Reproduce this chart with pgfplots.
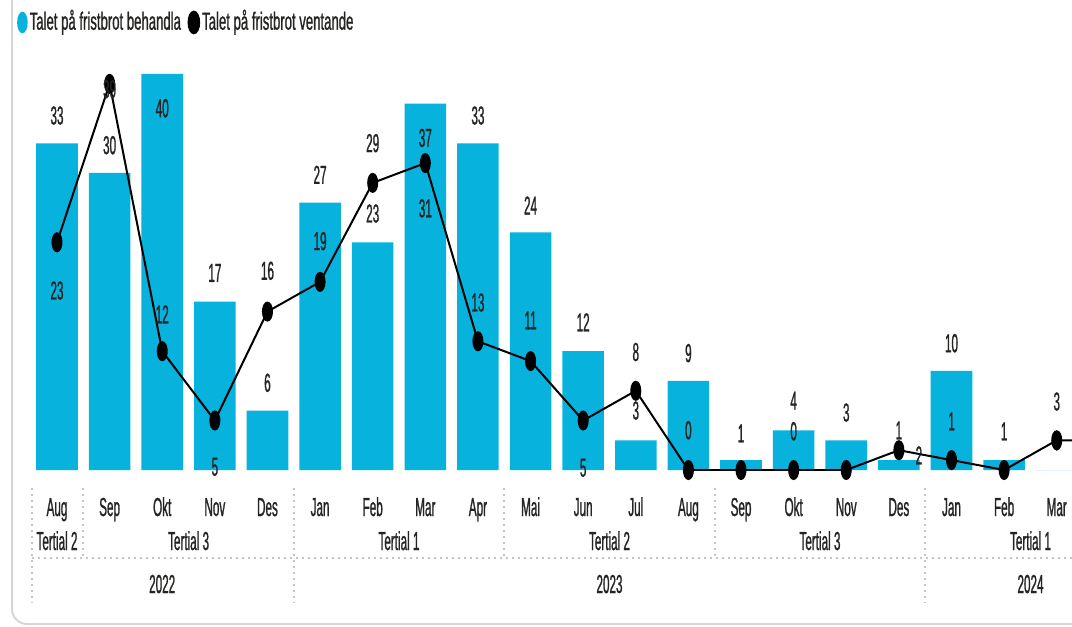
\documentclass[border=0pt]{standalone}
\usepackage{fontspec}
\setmainfont{Liberation Sans}[FakeStretch=0.45, FakeBold=0.9]
\newfontfamily\legendfont{Liberation Sans}[FakeStretch=0.53, FakeBold=0.9]
\usepackage{pgfplots}
\pgfplotsset{compat=1.18}
\usepackage{pgfplotstable}

\definecolor{pbicyan}{HTML}{07B2DD}
\definecolor{pbitext}{HTML}{252423}
\definecolor{pbidot}{HTML}{C4C4C4}
\definecolor{pbiframe}{HTML}{D6D6D6}

\newcommand\lblfont{\fontsize{13}{15}\selectfont}

% bars: month index, value, label offset (px, + = above bar top)
\pgfplotstableread{
x  y   dy
0  33  26
1  30  26
2  40  -36
3  17  27
4  6   26
5  27  26
6  23  27
7  37  -36
8  33  26
9  24  25
10 12  27
11 3   28
12 9   26
13 1   25
14 4   28
15 3   26
16 1   28
17 10  26
18 1   27
19 0   27
}\behandla

% line: month index, value, label offsets (px), label text
\pgfplotstableread{
x  y   dx  dy   lab
0  23  0   -50  23
1  39  0   -7   39
2  12  0   35   12
3  5   0   -48  5
4  16  0   39   16
5  19  0   39   19
6  29  0   38   29
7  31  0   -47  31
8  13  0   37   13
9  11  0   39   11
10 5   0   -49  5
11 8   0   37   8
12 0   0   38   0
13 0   0   0    {}
14 0   0   37   0
15 0   0   0    {}
16 2   20  -7   2
17 1   0   37   1
18 0   0   0    {}
19 3   0   37   3
20 3   0   0    {}
}\ventande

\begin{document}
\begin{tikzpicture}
\useasboundingbox (0,0) rectangle (536pt,-313.5pt);

\begin{axis}[
  at={(16pt,-235pt)}, anchor=south west,
  scale only axis, width=520pt, height=205pt,
  xmin=-0.475, xmax=19.29, ymin=0, ymax=41.41,
  axis line style={draw=none}, major tick length=0pt,
  ytick=\empty,
  xtick={0,...,19},
  xticklabels={Aug,Sep,Okt,Nov,Des,Jan,Feb,Mar,Apr,Mai,Jun,Jul,Aug,Sep,Okt,Nov,Des,Jan,Feb,Mar},
  xticklabel style={anchor=base, yshift=-23pt, font=\lblfont, text=pbitext, inner sep=0pt},
  /pgf/number format/assume math mode=true,
  legend columns=2, legend cell align=left,
  legend style={at={(axis description cs:-0.0147,1.0915)}, anchor=west,
    draw=none, fill=none, inner sep=0pt,
    font=\legendfont\fontsize{12.4}{14}\selectfont, text=pbitext,
    nodes={inner sep=0pt, text height=0.72em, text depth=0pt},
    /tikz/every odd column/.append style={column sep=1pt},
    /tikz/every even column/.append style={column sep=3.3pt}},
]
\addplot[ybar, bar width=0.79, fill=pbicyan, draw=none,
  legend image code/.code={\fill[pbicyan] (2.65pt,0pt) ellipse [x radius=2.65pt, y radius=5.4pt];},
  nodes near coords, nodes near coords align={center},
  visualization depends on={\thisrow{dy} \as \ldy},
  every node near coord/.append style={anchor=center, yshift=\ldy*0.5pt,
    font=\lblfont, text=pbitext, inner sep=0pt, text height=0.72em, text depth=0pt}]
  table[x=x, y=y] {\behandla};

\addplot[black, line width=1pt, mark=*, mark size=4.5pt,
  mark options={xscale=0.5, solid, fill=black},
  legend image code/.code={\fill[black] (2.65pt,0pt) ellipse [x radius=2.65pt, y radius=5.4pt];},
  point meta=explicit symbolic,
  nodes near coords, nodes near coords align={center},
  visualization depends on={\thisrow{dy} \as \ldy},
  visualization depends on={\thisrow{dx} \as \ldx},
  every node near coord/.append style={anchor=center, xshift=\ldx*0.5pt, yshift=\ldy*0.5pt,
    font=\lblfont, text=pbitext, inner sep=0pt, text height=0.72em, text depth=0pt}]
  table[x=x, y=y, meta=lab] {\ventande};

\legend{Talet på fristbrot behandla, Talet på fristbrot ventande}
\end{axis}

% hierarchy rows below the months, in pixel units
\begin{scope}[x=0.5pt, y=-0.5pt]
  \draw[pbiframe, line width=1pt, rounded corners=7.5pt] (12,-5) -- (12,624) -- (1090,624);
  \tikzset{sep/.style={pbidot, line width=1pt, dash pattern=on 1pt off 2pt}}
  \draw[sep] (32,488) -- (32,603);
  \draw[sep] (83.3,488) -- (83.3,558);
  \draw[sep] (293.8,488) -- (293.8,603);
  \draw[sep] (504.3,488) -- (504.3,558);
  \draw[sep] (714.8,488) -- (714.8,558);
  \draw[sep] (925.3,488) -- (925.3,603);
  \draw[sep] (32,558) -- (1072,558);
  \tikzset{grp/.style={anchor=base, font=\lblfont, text=pbitext, inner sep=0pt}}
  \node[grp] at (57,550)    {Tertial 2};
  \node[grp] at (188.6,550) {Tertial 3};
  \node[grp] at (399,550)   {Tertial 1};
  \node[grp] at (609.5,550) {Tertial 2};
  \node[grp] at (820,550)   {Tertial 3};
  \node[grp] at (1030.5,550) {Tertial 1};
  \node[grp] at (162.2,593) {2022};
  \node[grp] at (609.5,593) {2023};
  \node[grp] at (1030.5,593) {2024};
\end{scope}
\end{tikzpicture}
\end{document}
